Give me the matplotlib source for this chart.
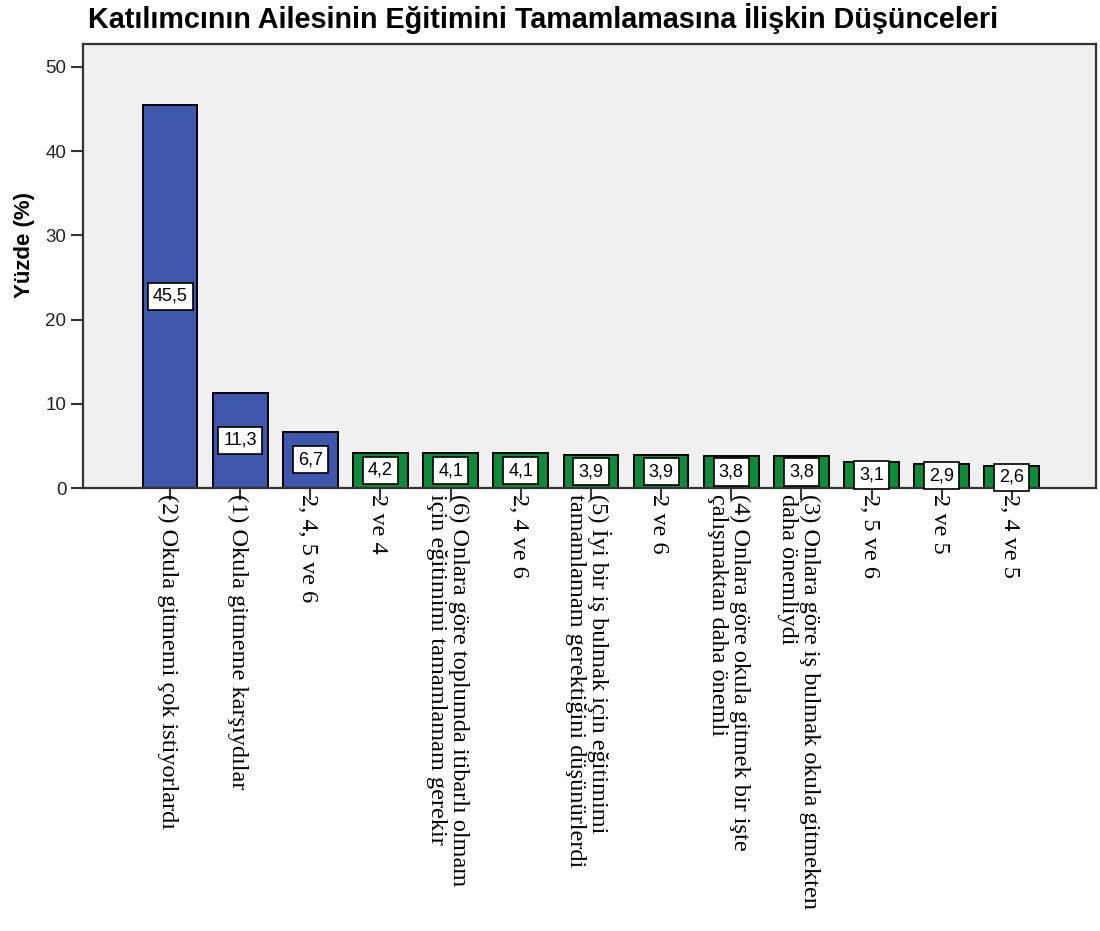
import matplotlib
matplotlib.use("Agg")
import matplotlib.pyplot as plt

# ---------------- data
categories = [
    "(2) Okula gitmemi çok istiyorlardı",
    "(1) Okula gitmeme karşıydılar",
    "2, 4, 5 ve 6",
    "2 ve 4",
    "(6) Onlara göre toplumda itibarlı olmam\niçin eğitimimi tamamlamam gerekir",
    "2, 4 ve 6",
    "(5) İyi bir iş bulmak için eğitimimi\ntamamlamam gerektiğini düşünürlerdi",
    "2 ve 6",
    "(4) Onlara göre okula gitmek bir işte\nçalışmaktan daha önemli",
    "(3) Onlara göre iş bulmak okula gitmekten\ndaha önemliydi",
    "2, 5 ve 6",
    "2 ve 5",
    "2, 4 ve 5",
]
percent = [45.5, 11.3, 6.7, 4.2, 4.1, 4.1, 3.9, 3.9, 3.8, 3.8, 3.1, 2.9, 2.6]
value_labels = ["45,5", "11,3", "6,7", "4,2", "4,1", "4,1", "3,9", "3,9",
                "3,8", "3,8", "3,1", "2,9", "2,6"]
bar_colors = ["#3f56ad"] * 3 + ["#0f8a3a"] * 10
y_ticks = [0, 10, 20, 30, 40, 50]

title = "Katılımcının Ailesinin Eğitimini Tamamlamasına İlişkin Düşünceleri"
ylabel = "Yüzde (%)"

# ---------------- plot
fig = plt.figure(figsize=(11, 9.31), dpi=100)
ax = fig.add_axes([0.0755, 0.4758, 0.9209, 0.4769])
ax.set_facecolor("#f0f0f0")

x = list(range(len(percent)))
ax.bar(x, percent, width=0.78, color=bar_colors, edgecolor="black", linewidth=1.4, zorder=2)

for i in range(len(percent)):
    ax.text(x[i], percent[i] / 2, value_labels[i], ha="center", va="center",
            fontsize=13, family="Liberation Sans", zorder=3,
            bbox=dict(boxstyle="square,pad=0.28", fc="white", ec="black", lw=1.2))

ax.set_xlim(-1.24, len(percent) - 1 + 1.2)
ax.set_ylim(0, 52.7)
ax.set_yticks(y_ticks)
ax.set_yticklabels([str(v) for v in y_ticks], family="Liberation Sans", fontsize=13.5, color="#222222")
ax.set_xticks(x)
ax.set_xticklabels(categories, rotation=-90, rotation_mode="anchor", ha="left",
                   va="center_baseline", family="Liberation Serif", fontsize=17.5,
                   multialignment="left", linespacing=1.05)
ax.tick_params(axis="both", direction="out", length=8.5, width=1.5, color="#333333")
ax.tick_params(axis="x", pad=-4)
for s in ax.spines.values():
    s.set_linewidth(1.6)
    s.set_color("#333333")

ax.set_ylabel(ylabel, family="Liberation Sans", fontsize=16, fontweight="bold")
ax.yaxis.set_label_coords(-0.047, 0.547)
fig.text(0.08, 1 - 18 / 931, title, ha="left", va="center",
         family="Liberation Sans", fontsize=20.7, fontweight="bold")

fig.savefig("out.png", dpi=100)
